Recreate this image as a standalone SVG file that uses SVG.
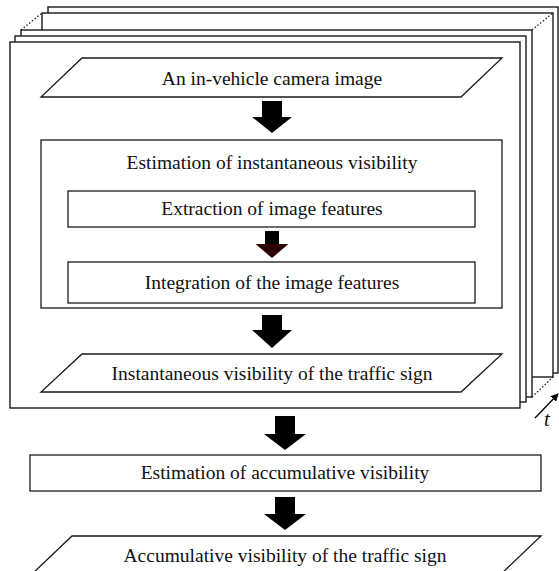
<svg xmlns="http://www.w3.org/2000/svg" width="559" height="571" viewBox="0 0 559 571">
  <style>
    .frame { fill: #fff; stroke: #1a1a1a; stroke-width: 1.4; }
    .box { fill: #fff; stroke: #1a1a1a; stroke-width: 1.3; }
    .dots { fill: none; stroke: #1a1a1a; stroke-width: 1.3; stroke-dasharray: 1.5 2; }
    .label { font-family: "Liberation Serif", "Times New Roman", serif; font-size: 19.5px; fill: #111; text-anchor: middle; }
    .arrow { fill: #000; }
  </style>
  <defs>
    <marker id="tip" markerWidth="8" markerHeight="8" refX="7" refY="4" orient="auto" markerUnits="userSpaceOnUse">
      <path d="M0,0 L8,4 L0,8 Z" fill="#000"/>
    </marker>
  </defs>

  <!-- stacked frames over time, back to front -->
  <g id="frames">
    <rect class="frame" x="48" y="7" width="510" height="366"/>
    <rect class="frame" x="42" y="13" width="511" height="364"/>
    <line class="dots" x1="21" y1="30" x2="42" y2="13"/>
    <line class="dots" x1="532" y1="30" x2="553" y2="13"/>
    <line class="dots" x1="532" y1="397" x2="553" y2="377"/>
    <rect class="frame" x="21" y="30" width="511" height="367"/>
    <rect class="frame" x="15" y="36" width="511" height="366"/>
    <rect class="frame" x="10" y="42" width="510" height="366"/>
  </g>

  <!-- time axis -->
  <g id="time-axis">
    <line x1="535" y1="418" x2="558" y2="394" stroke="#000" stroke-width="1.3" marker-end="url(#tip)"/>
    <text x="547" y="426" font-family="Liberation Serif, serif" font-style="italic" font-size="21" fill="#111" text-anchor="middle">t</text>
  </g>

  <g id="camera-image">
    <polygon class="box" points="82,58 502,58 461,97 41,97"/>
    <text class="label" x="272" y="85">An in-vehicle camera image</text>
  </g>

  <g id="instantaneous-estimation">
    <rect class="box" x="41" y="140" width="461" height="168"/>
    <text class="label" x="272" y="169">Estimation of instantaneous visibility</text>
  </g>

  <g id="feature-extraction">
    <rect class="box" x="68" y="191" width="407" height="36"/>
    <text class="label" x="272" y="215">Extraction of image features</text>
  </g>

  <g id="feature-integration">
    <rect class="box" x="68" y="262" width="407" height="41"/>
    <text class="label" x="272" y="289">Integration of the image features</text>
  </g>

  <g id="instantaneous-visibility">
    <polygon class="box" points="82,354 502,354 461,392 41,392"/>
    <text class="label" x="272" y="380">Instantaneous visibility of the traffic sign</text>
  </g>

  <g id="accumulative-estimation">
    <rect class="box" x="30" y="455" width="511" height="36"/>
    <text class="label" x="285" y="479">Estimation of accumulative visibility</text>
  </g>

  <g id="accumulative-visibility">
    <polygon class="box" points="72,536 541,536 500,575 31,575"/>
    <text class="label" x="285" y="562">Accumulative visibility of the traffic sign</text>
  </g>

  <!-- block arrows between the stages -->
  <g id="connectors">
    <polygon class="arrow" points="262,101 282,101 282,117 292,117 272,133 252,117 262,117"/>
    <rect x="265" y="231" width="14" height="14" fill="#000"/>
    <polygon points="255.5,244 288.5,244 272,258" fill="#2e0000"/>
    <polygon class="arrow" points="262,315 282,315 282,330 292,330 272,348 252,330 262,330"/>
    <polygon class="arrow" points="275,416 295,416 295,434 306,434 285,450 264,434 275,434"/>
    <polygon class="arrow" points="275,497 295,497 295,514 306,514 285,530 264,514 275,514"/>
  </g>
</svg>
